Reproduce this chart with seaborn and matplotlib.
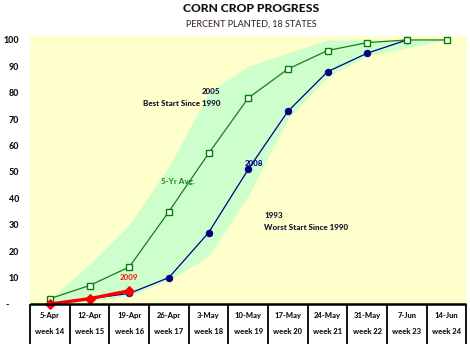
import matplotlib
matplotlib.use("Agg")
import matplotlib.pyplot as plt
import seaborn as sns
import numpy as np
import pandas as pd

dates = ['5-Apr', '12-Apr', '19-Apr', '26-Apr', '3-May', '10-May', '17-May',
         '24-May', '31-May', '7-Jun', '14-Jun']
weeks = ['week 14', 'week 15', 'week 16', 'week 17', 'week 18', 'week 19',
         'week 20', 'week 21', 'week 22', 'week 23', 'week 24']
avg5 = [2, 7, 14, 35, 57, 78, 89, 96, 99, 100, 100]
y2008 = [0, 2, 4, 10, 27, 51, 73, 88, 95, 100]
y2009 = [0, 2, 5]
best2005 = [2, 15, 30, 52, 80, 90, 95, 100, 100, 100, 100]
worst1993 = [0, 1, 3, 9, 18, 41, 70, 86, 94, 97, 100]
ytick_vals = [0, 10, 20, 30, 40, 50, 60, 70, 80, 90, 100]
ytick_labels = ['', '10', '20', '30', '40', '50', '60', '70', '80', '90', '100']

sns.set_theme(style="white")
plt.rcParams['font.family'] = ['Lato', 'DejaVu Sans']

W, H = 470, 344
fig = plt.figure(figsize=(W / 100, H / 100), dpi=100)
ax = fig.add_axes([30 / W, 40 / H, 436.5 / W, 268 / H])
ax.set_facecolor('#ffffcc')

xpos = np.arange(len(dates))
ax.fill_between(xpos, worst1993, best2005, color='#ccffcc', lw=0, zorder=1)

df08 = pd.DataFrame({'date': dates[:len(y2008)], 'v': y2008})
dfavg = pd.DataFrame({'date': dates, 'v': avg5})
df09 = pd.DataFrame({'date': dates[:len(y2009)], 'v': y2009})

sns.lineplot(data=df08, x='date', y='v', ax=ax, color='#000080', lw=0.9,
             marker='o', markersize=4.6, markeredgecolor='#000080',
             markerfacecolor='#000080', zorder=3)
sns.lineplot(data=dfavg, x='date', y='v', ax=ax, color='#1c7a1c', lw=0.9,
             marker='s', markersize=4.2, markeredgecolor='#008000',
             markerfacecolor='white', markeredgewidth=1.0, zorder=4)
sns.lineplot(data=df09, x='date', y='v', ax=ax, color='#ff0000', lw=2.4,
             marker='D', markersize=5.5, markeredgecolor='#ff0000',
             markerfacecolor='#ff0000', zorder=5, clip_on=False)

ax.set_xlim(-0.5, len(dates) - 0.5)
ax.set_ylim(0, 101.5)
ax.set_xticks([])
ax.set_yticks(ytick_vals)
ax.set_yticklabels(ytick_labels, fontsize=6.4, fontweight='black', color='#111111')
ax.tick_params(axis='y', length=0, pad=8)
ax.set_xlabel('')
ax.set_ylabel('')
for s in ax.spines.values():
    s.set_visible(False)
fig.text(5 / W, 40 / H, '-', ha='left', va='center', fontsize=6.4,
         fontweight='black', color='#111111')

fs = 5.8
wt = 'black'
ax.text(4.3, 80.5, '2005', ha='right', va='center', fontsize=fs, fontweight=wt, color='#111133')
ax.text(4.3, 76.0, 'Best Start Since 1990', ha='right', va='center', fontsize=fs, fontweight=wt, color='#111133')
ax.text(2.8, 46.5, '5-Yr Avg.', ha='left', va='center', fontsize=fs, fontweight=wt, color='#2a8a2a')
ax.text(4.9, 53.4, '2008', ha='left', va='center', fontsize=fs, fontweight=wt, color='#000080')
ax.text(2.0, 10.1, '2009', ha='center', va='center', fontsize=fs, fontweight=wt, color='#ff2020')
ax.text(5.4, 33.4, '1993', ha='left', va='center', fontsize=fs, fontweight=wt, color='#111133')
ax.text(5.4, 28.9, 'Worst Start Since 1990', ha='left', va='center', fontsize=fs, fontweight=wt, color='#111133')

# table under the chart
tax = fig.add_axes([30 / W, 0, 436.5 / W, 40 / H])
tax.set_xlim(-0.5, len(dates) - 0.5)
tax.set_ylim(40, 0)
tax.axis('off')
tax.vlines(np.arange(len(dates) + 1) - 0.5, 0, 40, color='black', lw=1.3, clip_on=False)
tax.hlines(0, -0.5, len(dates) - 0.5, color='black', lw=1.8, clip_on=False)
for i, (d, w) in enumerate(zip(dates, weeks)):
    tax.text(i, 11.5, d, ha='center', va='center', fontsize=5.5, fontweight='black', color='#111111')
    tax.text(i, 28.0, w, ha='center', va='center', fontsize=5.5, fontweight='black', color='#111111')

fig.text(251.5 / W, 1 - 9 / H, 'CORN CROP PROGRESS', ha='center', va='center',
         fontsize=8.7, fontweight='black', color='#111111')
fig.text(251.5 / W, 1 - 24 / H, 'PERCENT PLANTED, 18 STATES', ha='center', va='center',
         fontsize=6.5, fontweight='medium', color='#3a2a20')

fig.savefig('out.png', dpi=100)
